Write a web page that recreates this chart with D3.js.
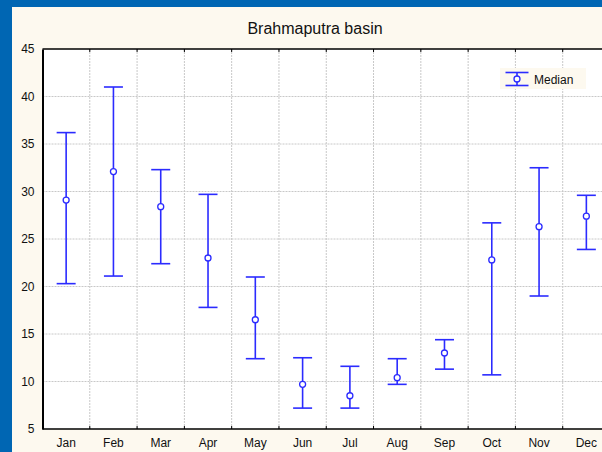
<!DOCTYPE html>
<html><head><meta charset="utf-8">
<script src="https://cdn.jsdelivr.net/npm/d3@7"></script>
<style>html,body{margin:0;padding:0;overflow:hidden;background:#fdf9ef}</style>
</head><body>
<svg id="c" width="602" height="452"></svg>
<script>
const months = ["Jan","Feb","Mar","Apr","May","Jun","Jul","Aug","Sep","Oct","Nov","Dec"];
const medianVals = [29.1, 32.1, 28.4, 23.0, 16.5, 9.7, 8.5, 10.4, 13.0, 22.8, 26.3, 27.4];
const upperVals  = [36.2, 41.0, 32.3, 29.7, 21.0, 12.5, 11.6, 12.4, 14.4, 26.7, 32.5, 29.6];
const lowerVals  = [20.3, 21.1, 22.4, 17.8, 12.4, 7.2, 7.2, 9.7, 11.3, 10.7, 19.0, 23.9];
const yTicks = [5,10,15,20,25,30,35,40,45];
const titleText = "Brahmaputra basin";
const legendLabel = "Median";

const W = 602, H = 452;
const pLeft = 42.5, pTop = 49, pBottom = 429, pRight = 610;
const blue = "#2b2bff";
const font = "Liberation Sans, Arial, sans-serif";

const svg = d3.select("#c");
// frame
svg.append("rect").attr("x",0).attr("y",0).attr("width",W).attr("height",H).attr("fill","#0066b3");
svg.append("rect").attr("x",12).attr("y",7).attr("width",W-12).attr("height",H-7).attr("fill","#fdf9ef");

const x = d3.scaleBand().domain(months).range([pLeft, pRight]);
const y = d3.scaleLinear().domain([5,45]).range([pBottom, pTop]);

// plot background
svg.append("rect").attr("x",pLeft).attr("y",pTop).attr("width",pRight-pLeft).attr("height",pBottom-pTop).attr("fill","#ffffff");

// grid
const g = svg.append("g");
g.selectAll("line.hg").data(yTicks.slice(1,-1)).enter().append("line")
  .attr("x1",pLeft).attr("x2",W).attr("y1",d=>y(d)).attr("y2",d=>y(d))
  .attr("stroke","#c8c8c8").attr("stroke-width",1).attr("stroke-dasharray","2,1");
g.selectAll("line.vg").data(months.slice(1)).enter().append("line")
  .attr("x1",d=>x(d)).attr("x2",d=>x(d)).attr("y1",pTop).attr("y2",pBottom)
  .attr("stroke","#c8c8c8").attr("stroke-width",1).attr("stroke-dasharray","2,1");

// axes
const bAxis = svg.append("g").attr("transform",`translate(0,${pBottom})`)
  .call(d3.axisBottom(x).tickSize(0).tickPadding(9));
bAxis.select(".domain").attr("stroke","#000").attr("stroke-width",1.5).attr("d",`M${pLeft},0H${W}`);
bAxis.selectAll("text").attr("font-family",font).attr("font-size",12).attr("fill","#111");
svg.append("g").selectAll("line").data(months.slice(1)).enter().append("line")
  .attr("x1",d=>x(d)).attr("x2",d=>x(d)).attr("y1",pBottom).attr("y2",pBottom-3)
  .attr("stroke","#000").attr("stroke-width",1);
svg.append("g").selectAll("line").data(months.slice(1)).enter().append("line")
  .attr("x1",d=>x(d)).attr("x2",d=>x(d)).attr("y1",pTop).attr("y2",pTop+3)
  .attr("stroke","#000").attr("stroke-width",1);
svg.append("line").attr("x1",pLeft).attr("x2",W).attr("y1",pTop).attr("y2",pTop)
  .attr("stroke","#000").attr("stroke-width",1.5);

const lAxis = svg.append("g").attr("transform",`translate(${pLeft},0)`)
  .call(d3.axisLeft(y).tickValues(yTicks).tickSize(0).tickPadding(8));
lAxis.select(".domain").attr("stroke","#000").attr("stroke-width",2);
lAxis.selectAll("text").attr("font-family",font).attr("font-size",12).attr("fill","#111");

// title
svg.append("text").attr("x",315).attr("y",34).attr("text-anchor","middle")
  .attr("font-family",font).attr("font-size",16).attr("fill","#111").text(titleText);

// error bars
const cap = 9.5;
const bars = svg.append("g");
months.forEach((m,i)=>{
  const cx = x(m) + x.bandwidth()/2;
  const gg = bars.append("g").attr("stroke",blue).attr("stroke-width",1.6);
  gg.append("line").attr("x1",cx).attr("x2",cx).attr("y1",y(upperVals[i])).attr("y2",y(lowerVals[i]));
  gg.append("line").attr("x1",cx-cap).attr("x2",cx+cap).attr("y1",y(upperVals[i])).attr("y2",y(upperVals[i]));
  gg.append("line").attr("x1",cx-cap).attr("x2",cx+cap).attr("y1",y(lowerVals[i])).attr("y2",y(lowerVals[i]));
  gg.append("circle").attr("cx",cx).attr("cy",y(medianVals[i])).attr("r",3).attr("fill","#fff").attr("stroke-width",1.3);
});

// legend
const lg = svg.append("g");
lg.append("rect").attr("x",500).attr("y",68).attr("width",86).attr("height",21).attr("fill","#fdf9ef");
const lgb = lg.append("g").attr("stroke",blue).attr("stroke-width",1.6);
lgb.append("line").attr("x1",517).attr("x2",517).attr("y1",72.5).attr("y2",85.5);
lgb.append("line").attr("x1",505.5).attr("x2",528.5).attr("y1",72.5).attr("y2",72.5);
lgb.append("line").attr("x1",505.5).attr("x2",528.5).attr("y1",85.5).attr("y2",85.5);
lgb.append("circle").attr("cx",517).attr("cy",79).attr("r",3).attr("fill","#fff").attr("stroke-width",1.3);
lg.append("text").attr("x",534).attr("y",84).attr("font-family",font).attr("font-size",12).attr("fill","#111").text(legendLabel);
</script>
</body></html>
